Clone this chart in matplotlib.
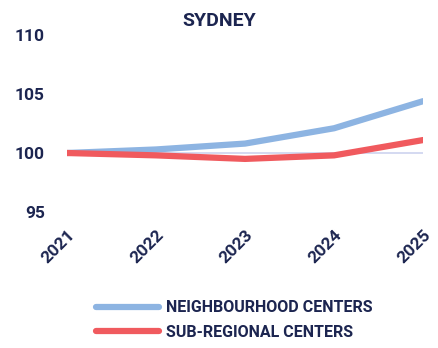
import matplotlib
matplotlib.use('Agg')
import matplotlib.pyplot as plt

years = ['2021', '2022', '2023', '2024', '2025']
neighbourhood = [100.0, 100.3, 100.8, 102.1, 104.4]
sub_regional = [100.0, 99.8, 99.5, 99.8, 101.1]

navy = '#1c2550'
blue = '#8db4e2'
red = '#f05a5e'

plt.rcParams['font.family'] = ['Roboto', 'DejaVu Sans']
plt.rcParams['font.weight'] = 'bold'

fig = plt.figure(figsize=(4.38, 3.48), dpi=100)
ax = fig.add_axes([0.153, 0.391, 0.813, 0.508])

x = range(len(years))
ax.axhline(100, color='#cdd3ef', lw=1.2, zorder=1)
ax.plot(x, neighbourhood, color=blue, lw=4.5, solid_capstyle='round', label='NEIGHBOURHOOD CENTERS', zorder=2)
ax.plot(x, sub_regional, color=red, lw=4.5, solid_capstyle='round', label='SUB-REGIONAL CENTERS', zorder=3)

ax.set_xlim(0, len(years) - 1)
ax.set_ylim(95, 110)
ax.set_yticks([95, 100, 105, 110])
ax.set_xticks(list(x))
ax.set_xticklabels(years, rotation=45, ha='right', va='top', rotation_mode='anchor')
for s in ax.spines.values():
    s.set_visible(False)
ax.tick_params(length=0, colors=navy, labelsize=12.5)
ax.tick_params(axis='y', pad=16)
ax.tick_params(axis='x', pad=11)

fig.text(0.5, 0.94, 'SYDNEY', ha='center', va='center', color=navy,
         fontsize=14, fontweight='bold')

leg = fig.legend(loc='center', bbox_to_anchor=(0.535, 0.08), frameon=False,
                 handlelength=3.9, handletextpad=0.45, labelspacing=0.6,
                 prop={'size': 11.5, 'weight': 'bold'})
for t in leg.get_texts():
    t.set_color(navy)
for h in leg.get_lines():
    h.set_linewidth(4.5)

fig.savefig('out.png', dpi=100)
